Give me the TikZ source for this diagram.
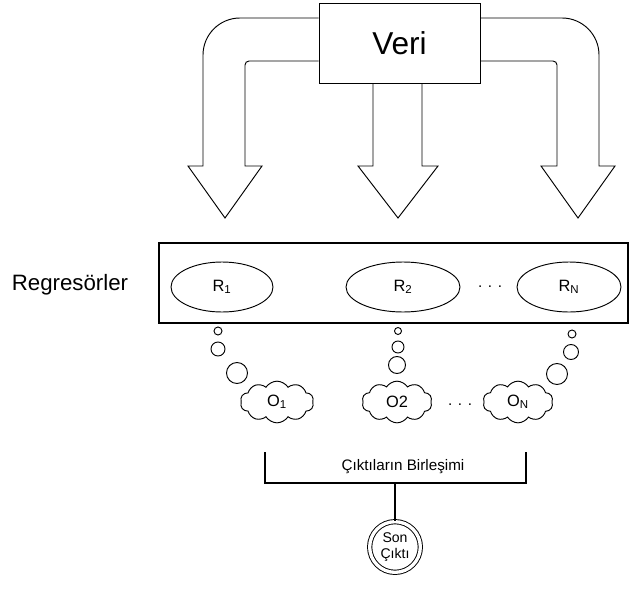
\documentclass[tikz,border=0pt]{standalone}
\usepackage{fontspec}
\setmainfont{Liberation Sans}
\usetikzlibrary{shapes.geometric,shapes.symbols}

\begin{document}
\begin{tikzpicture}[x=0.03cm, y=-0.03cm, line width=0.8pt,
    bigarrow/.style={draw=black, line width=0.8pt, line join=miter},
    regbox/.style={ellipse, draw, inner sep=0pt, minimum width=3.06cm, minimum height=1.5cm, font=\fontsize{14}{16}\selectfont},
    outcloud/.style={cloud, draw, cloud puffs=10, cloud puff arc=115, aspect=1.8, inner sep=0pt, minimum width=2.2cm, minimum height=1.25cm, font=\fontsize{14}{16}\selectfont},
    bubble/.style={circle, draw, inner sep=0pt},
    smalltext/.style={font=\fontsize{13}{15}\selectfont}]
    \useasboundingbox (0,0) rectangle (629,594);
    % data box and the three fat arrows
    \node[draw, minimum width=4.83cm, minimum height=2.4cm, font=\fontsize{27}{30}\selectfont] (veri) at (399.5,43) {Veri};

    \draw[bigarrow] (veri.west |- 0,18) -- (240,18) arc[start angle=270, end angle=180, radius=37] -- (203,166) -- (188,166) -- (225,218) -- (262,166) -- (245,166) -- (245,65) arc[start angle=180, end angle=270, radius=4] -- (veri.west |- 0,61);
    \draw[bigarrow] (veri.south -| 373,0) -- (373,166) -- (358,166) -- (398,218) -- (438,166) -- (422,166) -- (veri.south -| 422,0);
    \draw[bigarrow] (veri.east |- 0,18) -- (562,18) arc[start angle=270, end angle=360, radius=37] -- (599,166) -- (615,166) -- (578,218) -- (541,166) -- (557,166) -- (557,65) arc[start angle=0, end angle=-90, radius=4] -- (veri.east |- 0,61);

    % regressors
    \node[font=\fontsize{19}{22}\selectfont] (reglabel) at (70,285) {Regresörler};
    \node[draw, line width=1.1pt, minimum width=14.07cm, minimum height=2.4cm] (regs) at (393.5,283) {};
    \node[regbox] (r1) at (222,287) {R\textsubscript{1}};
    \node[regbox, minimum width=3.42cm] (r2) at (403,287) {R\textsubscript{2}};
    \node[regbox, minimum width=3.12cm] (rn) at (569,287) {R\textsubscript{N}};
    \node[smalltext] (rdots) at (490,287) {. . .};

    % thought bubbles
    \node[bubble, minimum size=0.24cm] (b11) at (218,331) {};
    \node[bubble, minimum size=0.42cm] (b12) at (218,349) {};
    \node[bubble, minimum size=0.63cm] (b13) at (237,373) {};
    \node[bubble, minimum size=0.21cm] (b21) at (398,331) {};
    \node[bubble, minimum size=0.36cm] (b22) at (398,347) {};
    \node[bubble, minimum size=0.51cm] (b23) at (397,365) {};
    \node[bubble, minimum size=0.24cm] (bn1) at (572,334) {};
    \node[bubble, minimum size=0.45cm] (bn2) at (571,352) {};
    \node[bubble, minimum size=0.63cm] (bn3) at (557,374) {};

    % outputs
    \node[outcloud] (o1) at (277,402) {O\textsubscript{1}};
    \node[outcloud, minimum width=2.1cm] (o2) at (397,402) {O2};
    \node[outcloud, minimum width=2.1cm] (on) at (518,402) {O\textsubscript{N}};
    \node[smalltext] (odots) at (460,405) {. . .};

    % combination
    \coordinate (join) at (395,483);
    \draw[line width=1.5pt] (265,452) -- (265,483) -- (526,483) -- (526,452);
    \node[smalltext] (comb) at (403,467) {Çıktıların Birleşimi};
    \node[circle, draw, double, double distance=0.1cm, minimum size=1.52cm, inner sep=0pt, align=center, font=\fontsize{12}{13}\selectfont] (son) at (395,547) {Son\\Çıktı};
    \draw[line width=1.5pt] (join) -- (son);
\end{tikzpicture}
\end{document}
